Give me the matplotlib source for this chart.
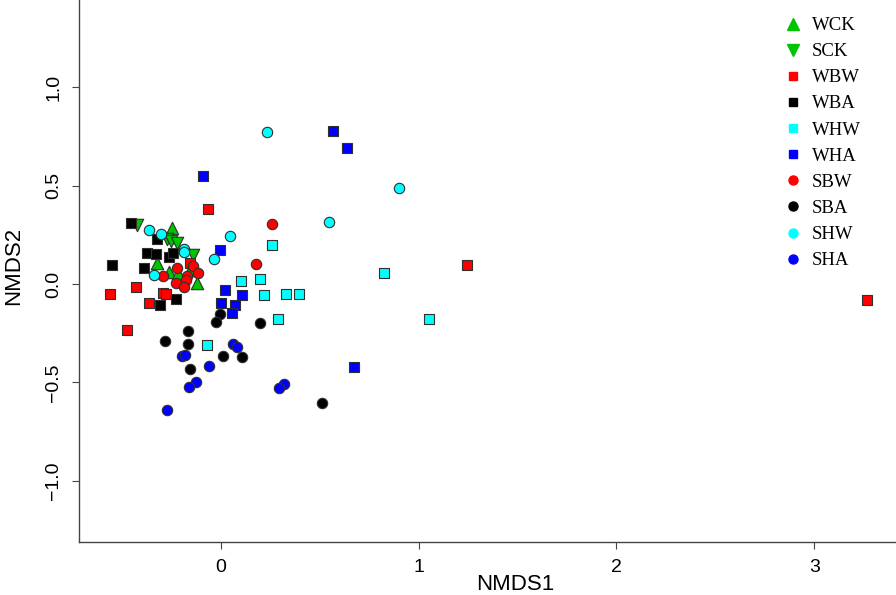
import numpy as np
import matplotlib
matplotlib.use("Agg")
import matplotlib.pyplot as plt
from matplotlib.lines import Line2D

# NMDS scores, one pair of arrays per group
wck_x = [-0.247, -0.320, -0.260, -0.216, -0.152, -0.118]
wck_y = [0.283, 0.105, 0.061, 0.055, 0.070, 0.004]
sck_x = [-0.421, -0.270, -0.250, -0.221, -0.138]
sck_y = [0.299, 0.226, 0.216, 0.207, 0.149]
wbw_x = [-0.061, -0.154, -0.557, -0.429, -0.289, -0.274, -0.360, -0.475, 1.246, 3.264]
wbw_y = [0.383, 0.107, -0.052, -0.017, -0.047, -0.051, -0.094, -0.232, 0.099, -0.083]
wba_x = [-0.452, -0.323, -0.374, -0.326, -0.259, -0.242, -0.547, -0.387, -0.226, -0.308]
wba_y = [0.311, 0.226, 0.159, 0.153, 0.138, 0.158, 0.096, 0.080, -0.075, -0.108]
whw_x = [0.104, 0.201, 0.221, 0.333, 0.395, 0.288, -0.069, 0.259, 0.827, 1.051]
whw_y = [0.014, 0.023, -0.058, -0.051, -0.051, -0.176, -0.308, 0.198, 0.056, -0.178]
wha_x = [-0.087, 0.567, 0.641, -0.003, 0.024, 0.110, 0.004, 0.072, 0.059, 0.672]
wha_y = [0.550, 0.777, 0.692, 0.175, -0.031, -0.058, -0.094, -0.107, -0.146, -0.421]
sbw_x = [-0.222, -0.138, -0.115, -0.168, -0.174, -0.224, -0.184, -0.289, 0.261, 0.179]
sbw_y = [0.082, 0.091, 0.058, 0.042, 0.019, 0.004, -0.015, 0.041, 0.303, 0.102]
sba_x = [-0.005, -0.022, 0.197, -0.163, -0.279, -0.165, 0.010, 0.110, -0.153, 0.514]
sba_y = [-0.151, -0.194, -0.199, -0.239, -0.288, -0.303, -0.364, -0.371, -0.430, -0.603]
shw_x = [0.237, 0.901, 0.549, 0.049, -0.363, -0.301, -0.183, -0.183, -0.032, -0.335]
shw_y = [0.772, 0.486, 0.316, 0.246, 0.274, 0.255, 0.179, 0.161, 0.126, 0.044]
sha_x = [0.061, 0.084, -0.193, -0.180, -0.057, -0.125, -0.157, 0.320, 0.293, -0.269]
sha_y = [-0.306, -0.318, -0.367, -0.362, -0.418, -0.496, -0.524, -0.509, -0.529, -0.638]

labels = ["WCK", "SCK", "WBW", "WBA", "WHW", "WHA", "SBW", "SBA", "SHW", "SHA"]
xs = [wck_x, sck_x, wbw_x, wba_x, whw_x, wha_x, sbw_x, sba_x, shw_x, sha_x]
ys = [wck_y, sck_y, wbw_y, wba_y, whw_y, wha_y, sbw_y, sba_y, shw_y, sha_y]
colors = ["#00c400", "#00c400", "#ff0000", "#000000", "#00ffff", "#0000ff",
          "#ff0000", "#000000", "#00ffff", "#0000ff"]
markers = ["^", "v", "s", "s", "s", "s", "o", "o", "o", "o"]
sizes = {"^": 80, "v": 80, "s": 44, "o": 56}
leg_ms = {"^": 8.6, "v": 8.6, "s": 5.8, "o": 6.5}

fig = plt.figure(figsize=(8.96, 5.95), dpi=100)
ax = fig.add_axes([79 / 896, 53 / 595, 817 / 896, 542 / 595])

for x, y, c, m in zip(xs, ys, colors, markers):
    ax.scatter(x, y, s=sizes[m], c=c, marker=m, edgecolors="#303030",
               linewidths=0.8, zorder=3)

ax.set_xlim(-0.715, 3.412)
ax.set_ylim(-1.31, 1.442)
ax.set_xticks([0, 1, 2, 3])
ax.set_yticks([-1.0, -0.5, 0.0, 0.5, 1.0])
ax.set_yticklabels(["\u22121.0", "\u22120.5", "0.0", "0.5", "1.0"])

for side in ["top", "right"]:
    ax.spines[side].set_visible(False)
for side in ["left", "bottom"]:
    ax.spines[side].set_color("#444444")
    ax.spines[side].set_linewidth(1.0)

ax.tick_params(axis="both", direction="out", length=5, width=0.8,
               color="#444444", labelsize=14, pad=7)
for lab in ax.get_xticklabels() + ax.get_yticklabels():
    lab.set_fontfamily("Liberation Sans")
for lab in ax.get_yticklabels():
    lab.set_rotation(90)
    lab.set_va("center")

fig.text(515 / 896, 0.0, "NMDS1", ha="center", va="bottom",
         fontsize=16, family="Liberation Sans")
fig.text(14 / 896, 1 - 266 / 595, "NMDS2", ha="center", va="center",
         rotation=90, fontsize=16, family="Liberation Sans")

handles = [Line2D([], [], linestyle="none", marker=m, color=c,
                  markersize=leg_ms[m])
           for m, c in zip(markers, colors)]
ax.legend(handles, labels, loc="upper left",
          bbox_to_anchor=(785 / 896, 1 - 17 / 595),
          bbox_transform=fig.transFigure, frameon=False,
          prop={"family": "Liberation Serif", "size": 13.5},
          handlelength=0.8, handletextpad=0.65, labelspacing=0.48,
          borderpad=0, borderaxespad=0)

fig.savefig("out.png", dpi=100)
